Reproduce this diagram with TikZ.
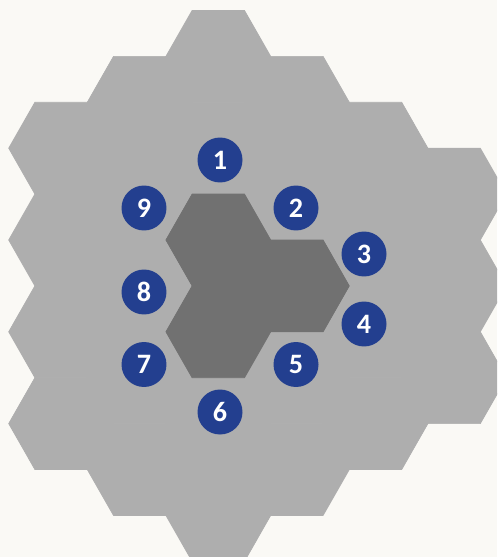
\documentclass[tikz,border=0pt]{standalone}
\usepackage{fontspec}
\newfontfamily\badgefont{Carlito}
\definecolor{hxpaper}{HTML}{FAF9F5}
\definecolor{hxlight}{HTML}{AEAEAE}
\definecolor{hxdark}{HTML}{717171}
\definecolor{hxblue}{HTML}{233F8F}
\usepackage{tikz}
% one flat-topped cell, centre given in pixel units
\newcommand{\hexcell}[3]{%
  \filldraw[#1,line width=0.4pt] (#2,#3) ++(-52.4,0) -- ++(26.2,-45.9) -- ++(52.4,0)
    -- ++(26.2,45.9) -- ++(-26.2,45.9) -- ++(-52.4,0) -- cycle;}

\begin{document}
\begin{tikzpicture}[x=0.02cm,y=-0.02cm,
  lightc/.style={fill=hxlight,draw=hxlight},
  darkc/.style={fill=hxdark,draw=hxdark},
  badge/.style={circle,fill=hxblue,text=white,minimum size=0.9cm,inner sep=0pt,
    font=\badgefont\bfseries\fontsize{16}{16}\selectfont}]
  \useasboundingbox (0,0) rectangle (497,557);
  \fill[hxpaper] (0,0) rectangle (497,557);
  \clip (0,0) rectangle (497,557);
  % outer field, column by column
  \foreach \i/\ka/\kb/\off in {-2/-1/2/0,-1/-2/2/1,0/-2/3/0,1/-2/2/1,2/-1/2/0,3/-1/1/1}
    \foreach \k in {\ka,...,\kb}
      \hexcell{lightc}{218.3+78.6*\i}{240+45.9*\off+91.8*\k};
  % the three inner cells
  \hexcell{darkc}{218.3}{240}
  \hexcell{darkc}{296.9}{285.9}
  \hexcell{darkc}{218.3}{331.8}
  % numbered positions
  \node[badge] (b1) at (220,160) {1};
  \node[badge] (b2) at (296,208) {2};
  \node[badge] (b3) at (364,254) {3};
  \node[badge] (b4) at (364,324) {4};
  \node[badge] (b5) at (296,364.5) {5};
  \node[badge] (b6) at (220,412) {6};
  \node[badge] (b7) at (144,364.5) {7};
  \node[badge] (b8) at (144,292) {8};
  \node[badge] (b9) at (144,208) {9};
\end{tikzpicture}
\end{document}
